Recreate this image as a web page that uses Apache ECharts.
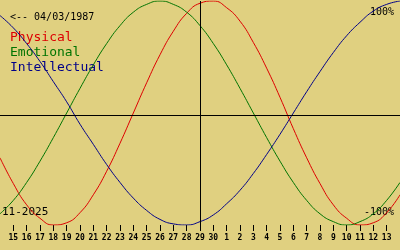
<!DOCTYPE html>
<html>
<head>
<meta charset="utf-8">
<script src="https://cdn.jsdelivr.net/npm/echarts@6/dist/echarts.min.js"></script>
<style>
html,body{margin:0;padding:0;background:#e0d080;}
#c{width:400px;height:250px;}
</style>
</head>
<body>
<div id="c"></div>
<script>
// Days shown (14 Nov .. 14 Dec 2025); ends are unlabeled edges
const dayLabels = ['14','15','16','17','18','19','20','21','22','23','24','25','26','27','28','29','30',
  '1','2','3','4','5','6','7','8','9','10','11','12','13','14'];
const todayLabel = '29';
const seriesNames = ['Physical','Emotional','Intellectual'];
const physical = [-0.40,-0.63,-0.82,-0.94,-1.00,-0.98,-0.89,-0.73,-0.52,-0.27,0,0.27,0.52,0.73,0.89,0.98,1.00,
  0.94,0.82,0.63,0.40,0.14,-0.14,-0.40,-0.63,-0.82,-0.94,-1.00,-0.98,-0.89,-0.73];
const emotional = [-0.90,-0.78,-0.62,-0.43,-0.22,0,0.22,0.43,0.62,0.78,0.90,0.97,1.00,0.97,0.90,0.78,0.62,
  0.43,0.22,0,-0.22,-0.43,-0.62,-0.78,-0.90,-0.97,-1.00,-0.97,-0.90,-0.78,-0.62];
const intellectual = [0.87,0.76,0.62,0.46,0.28,0.10,-0.10,-0.28,-0.46,-0.62,-0.76,-0.87,-0.95,-0.99,-1.00,-0.97,-0.91,
  -0.81,-0.69,-0.54,-0.37,-0.19,0,0.19,0.37,0.54,0.69,0.81,0.91,0.97,1.00];
const zeroLevel = -0.018;
const birthText = '<-- 04/03/1987';
const monthText = '11-2025';
const topText = '100%';
const bottomText = '-100%';

const colors = ['#dd0000','#007400','#000088'];
const mono = '"DejaVu Sans Mono", "Liberation Mono", monospace';

const chart = echarts.init(document.getElementById('c'), null, {renderer:'canvas'});
const lastIdx = dayLabels.length - 1;
const showIdx = (i) => i !== 0 && i !== lastIdx;

const mk = (name, data, color, extra) => Object.assign({
  name, type:'line', data, smooth:true, symbol:'none', silent:true,
  lineStyle:{color, width:1}, itemStyle:{color}, z:3
}, extra || {});

chart.setOption({
  animation:false,
  backgroundColor:'#e0d080',
  grid:{left:0,right:0,top:1,bottom:25,containLabel:false},
  xAxis:{
    type:'category', data:dayLabels, boundaryGap:false,
    axisLine:{show:false, onZero:false},
    axisTick:{show:true, length:6, interval:(i)=>showIdx(i), lineStyle:{color:'#000',width:1}},
    axisLabel:{show:true, interval:(i)=>showIdx(i), margin:9, color:'#000',
      fontFamily:mono, fontSize:8, fontWeight:'bold'},
    splitLine:{show:false}
  },
  yAxis:{type:'value', min:-1, max:1, show:false, splitLine:{show:false}},
  series:[
    mk(seriesNames[0], physical, colors[0], {
      markLine:{silent:true, symbol:'none', label:{show:false},
        lineStyle:{color:'#000', width:1, type:'solid'},
        data:[{yAxis:zeroLevel},{xAxis:todayLabel}]}
    }),
    mk(seriesNames[1], emotional, colors[1]),
    mk(seriesNames[2], intellectual, colors[2])
  ],
  graphic:[
    {type:'text', x:10, y:17, style:{text:birthText, fill:'#000', font:'10px '+mono, align:'left', verticalAlign:'middle'}},
    {type:'text', x:10, y:38, style:{text:seriesNames[0], fill:colors[0], font:'13px '+mono, align:'left', verticalAlign:'middle'}},
    {type:'text', x:10, y:53, style:{text:seriesNames[1], fill:colors[1], font:'13px '+mono, align:'left', verticalAlign:'middle'}},
    {type:'text', x:10, y:68, style:{text:seriesNames[2], fill:colors[2], font:'13px '+mono, align:'left', verticalAlign:'middle'}},
    {type:'text', x:2, y:212, style:{text:monthText, fill:'#000', font:'11px '+mono, align:'left', verticalAlign:'middle'}},
    {type:'text', x:394, y:12, style:{text:topText, fill:'#000', font:'10px '+mono, align:'right', verticalAlign:'middle'}},
    {type:'text', x:394, y:212, style:{text:bottomText, fill:'#000', font:'10px '+mono, align:'right', verticalAlign:'middle'}}
  ]
});
</script>
</body>
</html>
